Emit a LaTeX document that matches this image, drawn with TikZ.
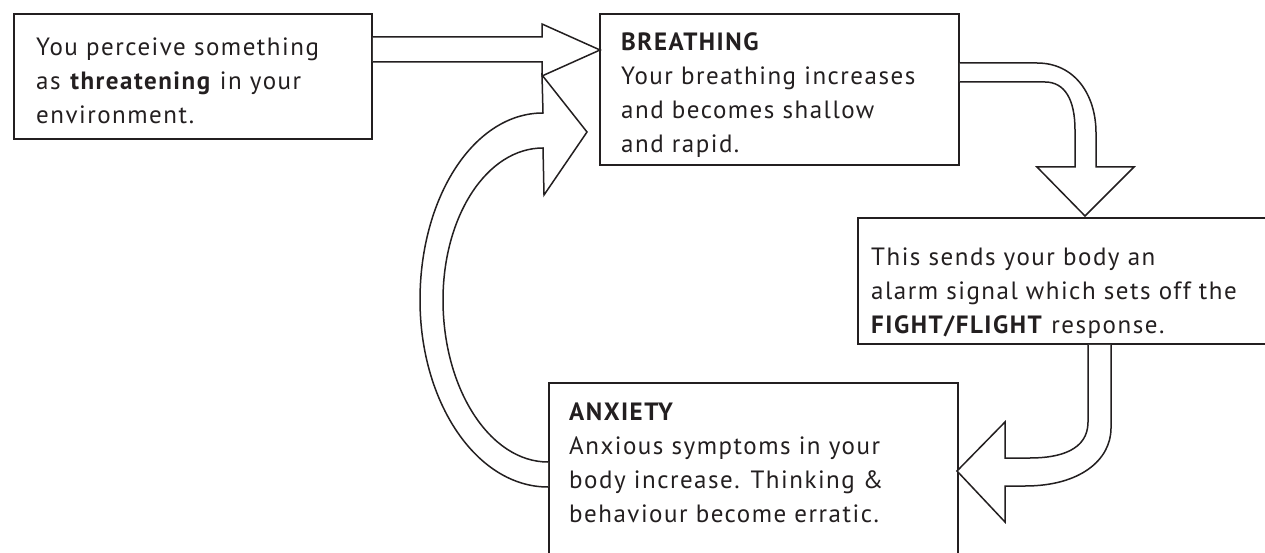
\documentclass[tikz,border=0pt]{standalone}
\usepackage{fontspec}
\setmainfont[LetterSpace=6]{PT Sans}
\definecolor{ink}{HTML}{231F20}
\begin{document}
\begin{tikzpicture}[x=1pt,y=-1pt,
  box/.style={draw=ink,line width=1.8pt,rectangle,inner sep=0pt,anchor=north west},
  txt/.style={anchor=north west,inner sep=0pt,align=left,text=ink,font={\fontsize{25}{34}\selectfont}},
  barrow/.style={draw=ink,fill=white,line width=1.5pt,line join=miter}]
\useasboundingbox (0,0) rectangle (1265,553);
\clip (0,0) rectangle (1265,553);
\fill[white] (0,0) rectangle (1265,553);
% boxes
\node[box,minimum width=358pt,minimum height=125pt] (b1) at (13,13) {};
\node[box,minimum width=359pt,minimum height=151pt] (b2) at (599,13) {};
\node[box,minimum width=420pt,minimum height=126pt] (b3) at (857,217) {};
\node[box,minimum width=409pt,minimum height=200pt] (b4) at (548,382) {};
% texts
\node[txt] (t1) at (36,35) {\rule{0pt}{20pt}You perceive something\\as \textbf{threatening} in your\\environment.};
\node[txt] (t2) at (621,30) {\rule{0pt}{20pt}\textbf{BREATHING}\\Your breathing increases\\and becomes shallow\\and rapid.};
\node[txt] (t3) at (871,245) {\rule{0pt}{20pt}This sends your body an\\alarm signal which sets off the\\\textbf{FIGHT/FLIGHT} response.};
\node[txt] (t4) at (569,400) {\rule{0pt}{20pt}\textbf{ANXIETY}\\Anxious symptoms in your\\body increase. Thinking \&\\behaviour become erratic.};
% block arrows
\filldraw[barrow] (b1.east |- 0,37) -- (542,37) -- (542,24) -- (600,50) -- (542,76) -- (542,62) -- (b1.east |- 0,62);
\filldraw[barrow] (b4.west |- 0,487) .. controls (477,487) and (420,403) .. (420,300)
   .. controls (420,197) and (474,113) .. (543,113) -- (542,75) -- (587,132) -- (544,195) -- (543,148)
   .. controls (487,148) and (443,216) .. (443,300) .. controls (443,389) and (490,462) .. (b4.west |- 0,462);
\filldraw[barrow] (b2.east |- 0,63) -- (1037,63) .. controls (1075,63) and (1096,95) .. (1096,133)
   -- (1096,167) -- (1134,167) -- (1085,216) -- (1037,167) -- (1075,167) -- (1075,130)
   .. controls (1075,100) and (1065,82) .. (1045,82) -- (b2.east |- 0,82);
\filldraw[barrow] (1088,0 |- b3.south) -- (1088,422) .. controls (1088,450) and (1060,458) .. (1030,458)
   -- (1005,458) -- (1005,422) -- (957,471) -- (1005,522) -- (1005,486) -- (1025,486)
   .. controls (1080,486) and (1111,460) .. (1111,428) -- (1111,0 |- b3.south);
\end{tikzpicture}
\end{document}
